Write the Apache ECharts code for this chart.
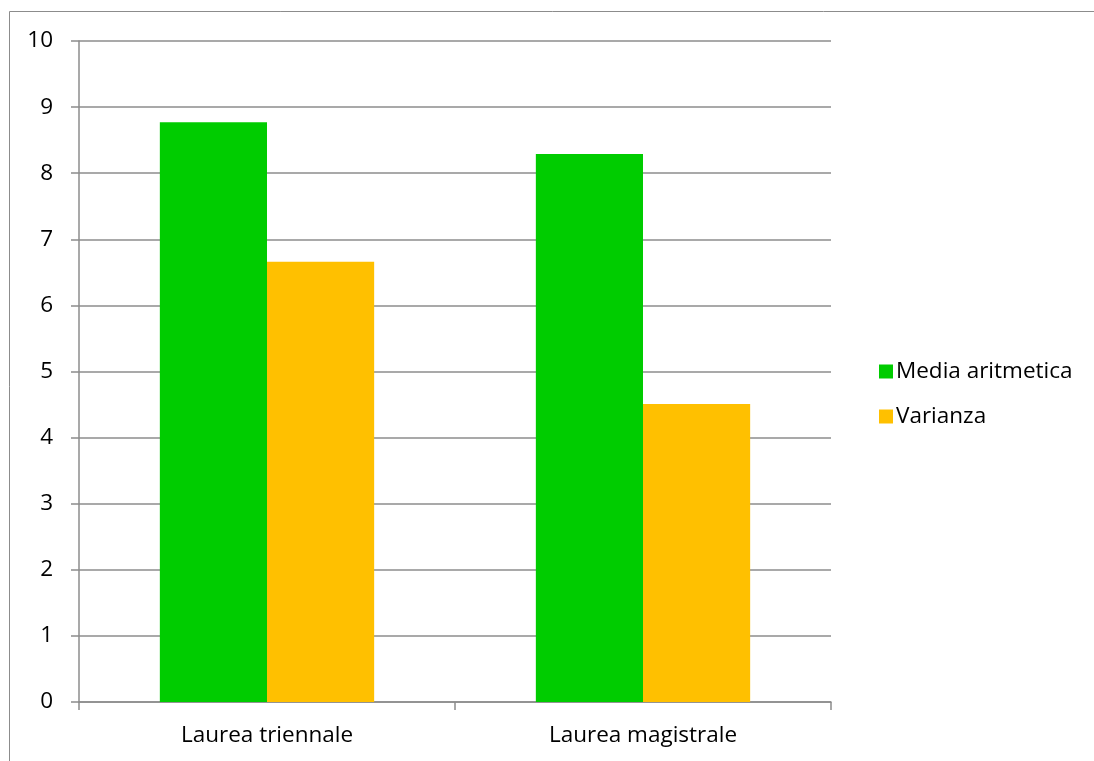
<!DOCTYPE html>
<html>
<head>
<meta charset="utf-8">
<style>
  html, body { margin: 0; padding: 0; background: #fff; }
  #chart { width: 1094px; height: 761px; }
</style>
<script src="https://cdn.jsdelivr.net/npm/echarts@6/dist/echarts.min.js"></script>
</head>
<body>
<div id="chart"></div>
<script>
// Corsi di laurea e relativi indicatori
const categories = ['Laurea triennale', 'Laurea magistrale'];
const mediaAritmetica = [8.77, 8.29];
const varianza = [6.66, 4.51];
const yTicks = { min: 0, max: 10, interval: 1 };

const FONT = '"Open Sans", "Noto Sans", sans-serif';
const FONT_SIZE = 22.5;
const GRID_GRAY = '#8c8c8c';

const chart = echarts.init(document.getElementById('chart'), null, { renderer: 'canvas' });

chart.setOption({
  backgroundColor: '#ffffff',
  animation: false,
  textStyle: { fontFamily: FONT, color: '#000' },
  graphic: [{
    type: 'rect',
    shape: { x: 9.5, y: 11.5, width: 1200, height: 900 },
    style: { fill: 'none', stroke: GRID_GRAY, lineWidth: 1 },
    silent: true,
    z: -1
  }],
  grid: { left: 79, right: 263, top: 41, bottom: 59, containLabel: false },
  legend: {
    orient: 'vertical',
    left: 874,
    top: 355,
    icon: 'rect',
    itemWidth: 14,
    itemHeight: 14,
    itemGap: 22,
    textStyle: { fontFamily: FONT, fontSize: FONT_SIZE, color: '#000', padding: [0, 0, 0, -2] },
    data: ['Media aritmetica', 'Varianza']
  },
  xAxis: {
    type: 'category',
    data: categories,
    boundaryGap: true,
    axisLine: { show: true, lineStyle: { color: GRID_GRAY, width: 1.5 } },
    axisTick: { show: true, length: 8, lineStyle: { color: GRID_GRAY, width: 1.5 } },
    axisLabel: { fontFamily: FONT, fontSize: FONT_SIZE, color: '#000', margin: 22 },
    splitLine: { show: false }
  },
  yAxis: {
    type: 'value',
    min: yTicks.min,
    max: yTicks.max,
    interval: yTicks.interval,
    axisLine: { show: true, lineStyle: { color: GRID_GRAY, width: 1.5 } },
    axisTick: { show: true, length: 8, lineStyle: { color: GRID_GRAY, width: 1.5 } },
    axisLabel: { fontFamily: FONT, fontSize: FONT_SIZE, color: '#000', margin: 26 },
    splitLine: { show: true, lineStyle: { color: GRID_GRAY, width: 1.5 } }
  },
  series: [
    {
      name: 'Media aritmetica',
      type: 'bar',
      data: mediaAritmetica,
      itemStyle: { color: '#00cc00' },
      barGap: '0%',
      barCategoryGap: '43%'
    },
    {
      name: 'Varianza',
      type: 'bar',
      data: varianza,
      itemStyle: { color: '#ffc000' },
      barGap: '0%',
      barCategoryGap: '43%'
    }
  ]
});
</script>
</body>
</html>
